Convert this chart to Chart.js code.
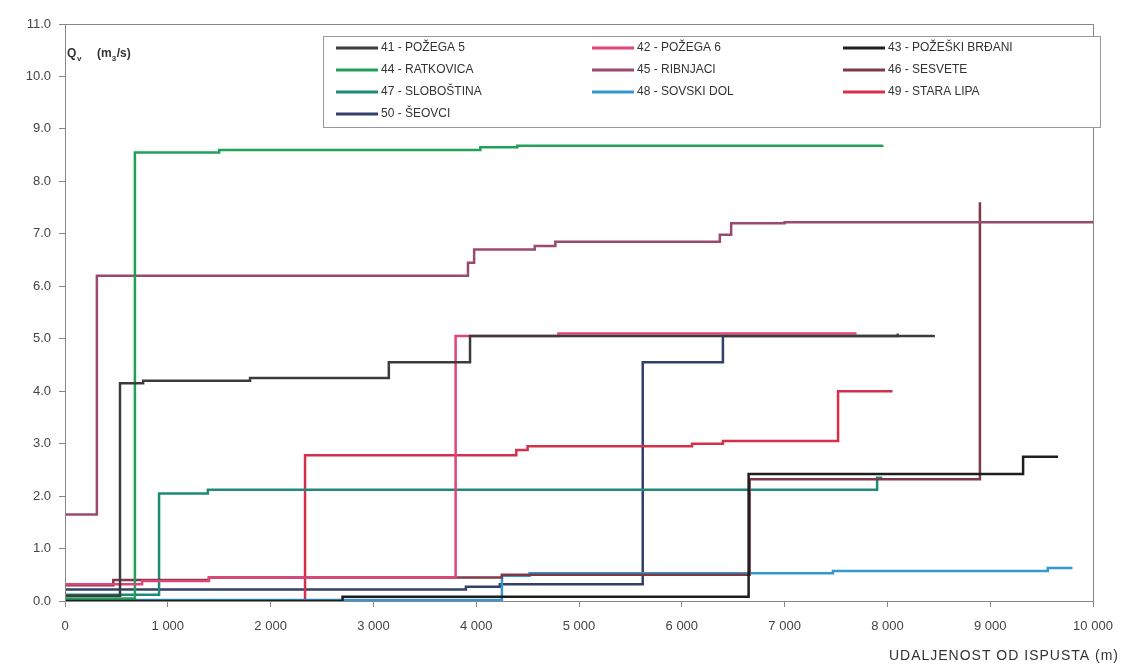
<!DOCTYPE html>
<html>
<head>
<meta charset="utf-8">
<script src="https://cdn.jsdelivr.net/npm/chart.js@4.4.1/dist/chart.umd.min.js"></script>
<style>
  html, body { margin: 0; padding: 0; background: #fff; }
  #wrap { width: 1128px; height: 666px; }
</style>
</head>
<body>
<div id="wrap"><canvas id="qChart" width="1128" height="666"></canvas></div>
<script>
// each pair: [distance from outlet (m), Q (m3/s) from that distance on]
const pozega5   = [[0, 0.1], [535, 4.15], [760, 4.2], [1800, 4.25], [3150, 4.55], [3940, 5.05], [8450, 5.07]];
const pozega6   = [[0, 0.32], [750, 0.38], [1400, 0.45], [3800, 5.05], [4800, 5.1], [7700, 5.1]];
const pozBrdani = [[0, 0.0], [2700, 0.08], [6650, 2.42], [9320, 2.75], [9660, 2.75]];
const ratkovica = [[0, 0.05], [680, 8.55], [1500, 8.6], [4040, 8.65], [4400, 8.68], [7950, 8.7]];
const ribnjaci  = [[0, 1.65], [310, 6.2], [3920, 6.45], [3980, 6.7], [4570, 6.77], [4770, 6.85], [6370, 6.98], [6480, 7.2], [7000, 7.22], [10000, 7.25]];
const sesvete   = [[0, 0.3], [470, 0.4], [1400, 0.45], [4250, 0.5], [6660, 2.32], [8900, 7.6]];
const slobostina= [[0, 0.12], [915, 2.05], [1390, 2.12], [7900, 2.35], [7950, 2.35]];
const sovskiDol = [[0, 0.02], [4250, 0.48], [4520, 0.53], [7470, 0.57], [9560, 0.63], [9800, 0.63]];
const staraLipa = [[0, 0.0], [2335, 2.78], [4390, 2.88], [4500, 2.95], [6100, 3.0], [6400, 3.05], [7520, 4.0], [8050, 4.0]];
const seovci    = [[0, 0.22], [3900, 0.27], [4230, 0.32], [5620, 4.55], [6400, 5.05], [8100, 5.1]];

const seriesNames  = ['41 - POŽEGA 5', '42 - POŽEGA 6', '43 - POŽEŠKI BRĐANI', '44 - RATKOVICA', '45 - RIBNJACI',
                      '46 - SESVETE', '47 - SLOBOŠTINA', '48 - SOVSKI DOL', '49 - STARA LIPA', '50 - ŠEOVCI'];
const seriesData   = [pozega5, pozega6, pozBrdani, ratkovica, ribnjaci, sesvete, slobostina, sovskiDol, staraLipa, seovci];
const seriesColors = ['#3c3c3c', '#e0457a', '#1e1e1e', '#22a05a', '#9a4a70', '#7e3848', '#1e8a78', '#3399cc', '#d4304c', '#33416a'];

const xTicks = [0, 1000, 2000, 3000, 4000, 5000, 6000, 7000, 8000, 9000, 10000];

const datasets = seriesNames.map((name, i) => ({
    label: name,
    data: seriesData[i].map(p => ({ x: p[0], y: p[1] })),
    borderColor: seriesColors[i],
    backgroundColor: seriesColors[i],
    borderWidth: 2.5,
    pointRadius: 0,
    stepped: 'before',
    fill: false
}));

const FONT = '"Liberation Sans", Arial, sans-serif';

// frame, legend box and axis titles
const decorations = {
    id: 'decorations',
    afterDraw(chart) {
        const ctx = chart.ctx;
        const a = chart.chartArea;
        ctx.save();
        ctx.strokeStyle = '#888';
        ctx.lineWidth = 1;
        ctx.strokeRect(Math.round(a.left) + 0.5, Math.round(a.top) + 0.5, Math.round(a.right - a.left), Math.round(a.bottom - a.top));

        // legend
        ctx.fillStyle = '#fff';
        ctx.fillRect(324, 37, 776, 90);
        ctx.strokeStyle = '#999';
        ctx.strokeRect(323.5, 36.5, 777, 91);
        const colX = [336, 592, 843];
        const rowY = [48, 70, 92, 114];
        ctx.font = '12px ' + FONT;
        ctx.textBaseline = 'middle';
        chart.data.datasets.forEach((ds, i) => {
            const x = colX[i % 3], y = rowY[Math.floor(i / 3)];
            ctx.strokeStyle = ds.borderColor;
            ctx.lineWidth = 3;
            ctx.beginPath();
            ctx.moveTo(x, y);
            ctx.lineTo(x + 42, y);
            ctx.stroke();
            ctx.fillStyle = '#333';
            ctx.fillText(ds.label, x + 45, y);
        });

        // y title
        ctx.fillStyle = '#333';
        ctx.textBaseline = 'alphabetic';
        ctx.font = 'bold 12px ' + FONT;
        ctx.fillText('Q', 67, 57);
        ctx.font = 'bold 8px ' + FONT;
        ctx.fillText('v', 77, 61);
        ctx.font = 'bold 12px ' + FONT;
        ctx.fillText('(m', 97, 57);
        const w = ctx.measureText('(m').width;
        ctx.font = 'bold 8px ' + FONT;
        ctx.fillText('3', 97 + w, 61);
        ctx.font = 'bold 12px ' + FONT;
        ctx.fillText('/s)', 97 + w + 5, 57);

        // x title
        ctx.textAlign = 'right';
        ctx.font = '14px ' + FONT;
        ctx.letterSpacing = '1px';
        ctx.fillText('UDALJENOST OD ISPUSTA (m)', 1119, 660);
        ctx.restore();
    }
};

new Chart(document.getElementById('qChart'), {
    type: 'line',
    data: { datasets: datasets },
    options: {
        responsive: false,
        animation: false,
        layout: { padding: { top: 24, right: 35, left: 0, bottom: 0 } },
        plugins: {
            legend: { display: false },
            tooltip: { enabled: false }
        },
        scales: {
            x: {
                type: 'linear',
                min: 0,
                max: 10000,
                afterBuildTicks: s => { s.ticks = xTicks.map(v => ({ value: v })); },
                afterFit: s => { s.height = 65; },
                grid: { drawOnChartArea: false, drawTicks: true, tickLength: 6, color: '#888' },
                border: { color: '#888' },
                ticks: {
                    autoSkip: false,
                    maxRotation: 0,
                    padding: 12,
                    color: '#444',
                    font: { family: FONT, size: 13 },
                    callback: v => v === 0 ? '0' : String(v).replace(/\B(?=(\d{3})+(?!\d))/g, ' ')
                }
            },
            y: {
                min: 0,
                max: 11,
                afterFit: s => { s.width = 65; },
                grid: { drawOnChartArea: false, drawTicks: true, tickLength: 6, color: '#888' },
                border: { color: '#888' },
                ticks: {
                    stepSize: 1,
                    padding: 8,
                    color: '#444',
                    font: { family: FONT, size: 13 },
                    callback: v => v.toFixed(1)
                }
            }
        }
    },
    plugins: [decorations]
});
</script>
</body>
</html>
